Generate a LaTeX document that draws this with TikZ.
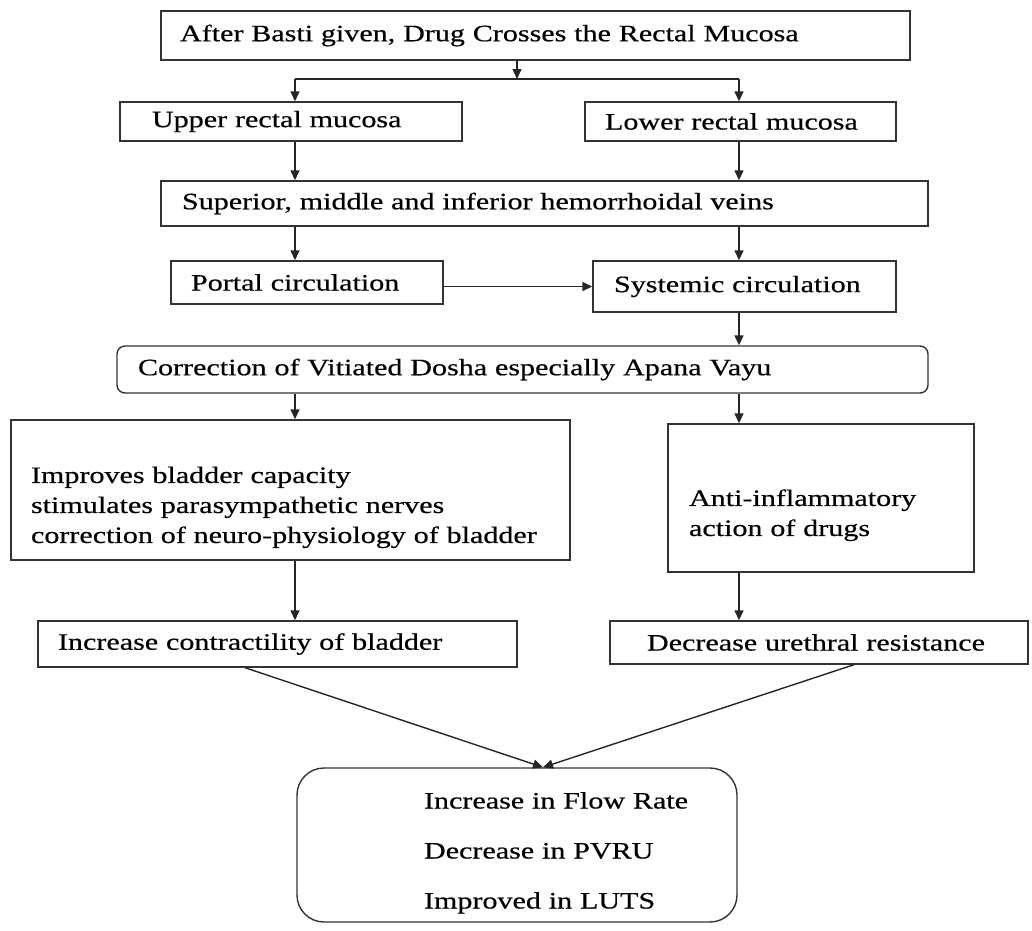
\documentclass[tikz,border=0pt]{standalone}
\usepackage{fontspec}
\setmainfont{Liberation Serif}[FakeStretch=1.28,FakeBold=0.5]
\usetikzlibrary{arrows.meta,calc}
\begin{document}
\begin{tikzpicture}[x=1pt,y=-1pt,
  txt/.style={font=\fontsize{23.5}{30}\selectfont},
  box/.style={draw=black!80, line width=1.4pt, align=left, inner xsep=0pt, inner ysep=0pt, txt},
  arr/.style={draw=black!85, line width=1.4pt, -{Triangle[length=10pt,width=9pt]}},
  ln/.style={draw=black!85, line width=1.4pt}]
\useasboundingbox (0,0) rectangle (1032,930);

\node[box, text width=749pt, minimum height=49pt] (T) at (535.5,35.5)
  {\hspace*{19pt}After Basti given, Drug Crosses the Rectal Mucosa};
\node[box, text width=342pt, minimum height=39pt] (U) at (291,121.5)
  {\hspace*{32pt}Upper rectal mucosa};
\node[box, text width=311pt, minimum height=39pt] (L) at (740.5,121.5)
  {\hspace*{20pt}Lower rectal mucosa};
\node[box, text width=767pt, minimum height=45pt] (H) at (544.5,203.5)
  {\hspace*{21pt}Superior, middle and inferior hemorrhoidal veins};
\node[box, text width=272pt, minimum height=43pt] (P) at (307,282.5)
  {\hspace*{20pt}Portal circulation};
\node[box, text width=303pt, minimum height=51pt] (S) at (744.5,286.5)
  {\hspace*{21pt}Systemic circulation};
\node[box, rounded corners=8pt, text width=811pt, minimum height=47pt] (C) at (522.5,369.5)
  {\hspace*{21pt}Correction of Vitiated Dosha especially Apana Vayu};
\node[box, text width=559pt, minimum height=140pt] (B1) at (290.5,490)
  {\strut\\\hspace*{20pt}Improves bladder capacity\\\hspace*{20pt}stimulates parasympathetic nerves\\\hspace*{20pt}correction of neuro-physiology of bladder};
\node[box, text width=306pt, minimum height=148pt] (B2) at (821,498)
  {\strut\\\hspace*{21pt}Anti-inflammatory\\\hspace*{21pt}action of drugs};
\node[box, text width=479pt, minimum height=46pt] (I) at (277.5,644)
  {\hspace*{20pt}Increase contractility of bladder};
\node[box, text width=418pt, minimum height=43pt] (D) at (819,642.5)
  {\hspace*{37pt}Decrease urethral resistance};
\node[box, rounded corners=27pt, text width=440pt, minimum height=154pt,
      font=\fontsize{23.5}{50}\selectfont] (F) at (517,845)
  {\rule{0pt}{32pt}\hspace*{127pt}Increase in Flow Rate\\\hspace*{127pt}Decrease in PVRU\\\hspace*{127pt}Improved in LUTS};

\coordinate (fk) at (517,79);
\coordinate (cl) at (295,79);
\coordinate (cr) at (739,79);

\draw[arr] (fk |- T.south) -- (fk);
\draw[ln] (cl) -- (cr);
\draw[arr] (cl) -- (cl |- U.north);
\draw[arr] (cr) -- (cr |- L.north);
\draw[arr] (cl |- U.south) -- (cl |- H.north);
\draw[arr] (cr |- L.south) -- (cr |- H.north);
\draw[arr] (cl |- H.south) -- (cl |- P.north);
\draw[arr] (cr |- H.south) -- (cr |- S.north);
\draw[arr] (P.east |- S.west) -- (S.west);
\draw[arr] (cr |- S.south) -- (cr |- C.north);
\draw[arr] (cl |- C.south) -- (cl |- B1.north);
\draw[arr] (cr |- C.south) -- (cr |- B2.north);
\draw[arr] (cl |- B1.south) -- (cl |- I.north);
\draw[arr] (cr |- B2.south) -- (cr |- D.north);
\draw[arr] ($(I.south)+(-32.5,0)$) -- ($(F.north)+(26,0)$);
\draw[arr] ($(D.south)+(35,0)$) -- ($(F.north)+(26,0)$);
\end{tikzpicture}
\end{document}
